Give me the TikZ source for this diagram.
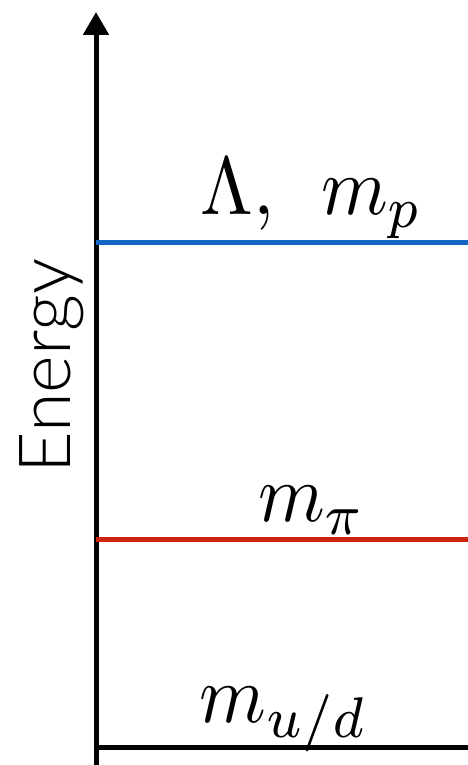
\documentclass[tikz,border=0pt]{standalone}
\usepackage{amsmath,amssymb}
\usepackage{xcolor}
\usepackage{fontspec}
\newfontfamily\axisfont{Lato}[UprightFont={* Light}]
\usepackage{tikz}
\usetikzlibrary{positioning,arrows.meta,calc}

\definecolor{levelblue}{RGB}{18,102,196}
\definecolor{levelred}{RGB}{204,36,10}

\begin{document}
\begin{tikzpicture}[x=1pt, y=1pt,
  level/.style={line width=5pt},
  lbl/.style={anchor=base, inner sep=0pt, xscale=7.6, yscale=8.2}]

  \useasboundingbox (0,0) rectangle (468,765);

  % axis
  \coordinate (ax0) at (96, 0);
  \coordinate (ax1) at (96, 753);
  \draw[line width=5pt, -{Triangle[width=25pt, length=23pt]}] (ax0) -- (ax1);
  \node[rotate=90, anchor=base, inner sep=0pt,
        font=\axisfont\fontsize{72}{84}\selectfont] (energy) at (70, 399) {Energy};

  % levels
  \coordinate (b0) at (96, 522);  \coordinate (b1) at (468, 522);
  \coordinate (r0) at (96, 225);  \coordinate (r1) at (468, 225);
  \coordinate (k0) at (96, 17);   \coordinate (k1) at (468, 17);
  \draw[level, levelblue] (b0) -- (b1);
  \draw[level, levelred]  (r0) -- (r1);
  \draw[level, black]     (k0) -- (k1);

  \node[lbl] (lam) at (312, 550) {$\Lambda,\;\,m_p$};
  \node[lbl] (mpi) at (312, 243) {$m_\pi$};
  \node[lbl] (mud) at (284, 42)  {$m_{u/d}$};
\end{tikzpicture}
\end{document}
